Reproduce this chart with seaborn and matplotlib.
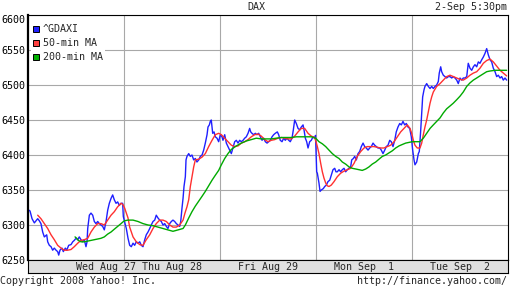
import matplotlib
matplotlib.use("Agg")
import matplotlib.pyplot as plt
from matplotlib.lines import Line2D
import seaborn as sns
import pandas as pd

# ---------------- data (time in trading days since Wed Aug 27 open) ----------------
day_labels = ["Wed Aug 27", "Thu Aug 28", "Fri Aug 29", "Mon Sep  1", "Tue Sep  2"]
y_ticks = [6250, 6300, 6350, 6400, 6450, 6500, 6550, 6600]
series_names = ["^GDAXI", "50-min MA", "200-min MA"]

gdaxi_t = [
    0.000, 0.021, 0.042, 0.066, 0.083, 0.101, 0.118, 0.135, 0.153, 0.170,
    0.195, 0.205, 0.222, 0.240, 0.257, 0.274, 0.292, 0.309, 0.320, 0.333,
    0.354, 0.368, 0.389, 0.403, 0.424, 0.448, 0.466, 0.482, 0.500, 0.518,
    0.534, 0.552, 0.570, 0.586, 0.604, 0.615, 0.622, 0.639, 0.656, 0.674,
    0.691, 0.708, 0.726, 0.743, 0.760, 0.778, 0.795, 0.813, 0.830, 0.847,
    0.865, 0.882, 0.899, 0.917, 0.934, 0.951, 0.969, 0.986, 0.993,
    1.024, 1.042, 1.059, 1.076, 1.094, 1.111, 1.128, 1.146, 1.164, 1.180,
    1.198, 1.216, 1.232, 1.250, 1.268, 1.284, 1.302, 1.320, 1.336, 1.354,
    1.372, 1.389, 1.406, 1.424, 1.441, 1.458, 1.476, 1.493, 1.510, 1.528,
    1.545, 1.563, 1.580, 1.591, 1.604, 1.615, 1.625, 1.639, 1.646, 1.656,
    1.674, 1.691, 1.708, 1.726, 1.743, 1.760, 1.778, 1.795, 1.813, 1.830,
    1.847, 1.865, 1.875, 1.889, 1.899, 1.909, 1.924, 1.938, 1.951, 1.969,
    1.986, 2.003, 2.021,
    2.031, 2.049, 2.066, 2.083, 2.101, 2.118, 2.135, 2.153, 2.170, 2.188,
    2.205, 2.222, 2.240, 2.257, 2.274, 2.292, 2.309, 2.320, 2.333, 2.351,
    2.368, 2.385, 2.403, 2.420, 2.438, 2.455, 2.472, 2.490, 2.507, 2.524,
    2.542, 2.559, 2.576, 2.597, 2.611, 2.628, 2.646, 2.664, 2.680, 2.698,
    2.716, 2.732, 2.750, 2.764, 2.778, 2.795, 2.813, 2.830, 2.847, 2.865,
    2.875, 2.889, 2.903, 2.917, 2.934, 2.951, 2.969, 2.986, 2.995,
    3.007, 3.014, 3.031, 3.042, 3.055, 3.076, 3.091, 3.107, 3.125, 3.143,
    3.159, 3.177, 3.195, 3.208, 3.222, 3.240, 3.257, 3.274, 3.292, 3.309,
    3.326, 3.344, 3.361, 3.372, 3.389, 3.403, 3.420, 3.438, 3.455, 3.472,
    3.490, 3.507, 3.524, 3.542, 3.559, 3.576, 3.594, 3.611, 3.628, 3.646,
    3.664, 3.680, 3.698, 3.716, 3.732, 3.750, 3.768, 3.784, 3.802, 3.820,
    3.836, 3.854, 3.872, 3.889, 3.906, 3.924, 3.941, 3.958, 3.976, 3.993,
    4.007,
    4.021, 4.031, 4.049, 4.066, 4.076, 4.091, 4.101, 4.111, 4.125, 4.135,
    4.153, 4.170, 4.188, 4.205, 4.222, 4.240, 4.257, 4.274, 4.284, 4.299,
    4.309, 4.326, 4.344, 4.361, 4.378, 4.396, 4.414, 4.430, 4.448, 4.466,
    4.482, 4.500, 4.518, 4.534, 4.552, 4.570, 4.586, 4.604, 4.622, 4.639,
    4.656, 4.674, 4.691, 4.708, 4.726, 4.743, 4.760, 4.778, 4.795, 4.813,
    4.830, 4.847, 4.865, 4.882, 4.899, 4.917, 4.934, 4.951, 4.969, 4.986,
]
gdaxi_v = [
    6322, 6320, 6309, 6303, 6306, 6309, 6306, 6302, 6290, 6283,
    6286, 6276, 6271, 6269, 6264, 6267, 6264, 6262, 6257, 6264,
    6267, 6262, 6267, 6264, 6271, 6272, 6276, 6278, 6281, 6279,
    6283, 6279, 6276, 6279, 6269, 6276, 6295, 6314, 6317, 6314,
    6305, 6302, 6305, 6302, 6300, 6298, 6293, 6305, 6321, 6331,
    6338, 6343, 6336, 6331, 6333, 6328, 6331, 6331, 6312,
    6295, 6281, 6271, 6269, 6274, 6271, 6276, 6274, 6276, 6271,
    6269, 6279, 6286, 6290, 6295, 6300, 6305, 6307, 6314, 6310,
    6307, 6305, 6300, 6302, 6298, 6295, 6302, 6305, 6307, 6305,
    6302, 6300, 6298, 6305, 6324, 6338, 6355, 6369, 6393, 6398,
    6402, 6398, 6400, 6393, 6395, 6390, 6393, 6398, 6400, 6407,
    6417, 6429, 6440, 6443, 6448, 6450, 6431, 6433, 6426, 6424,
    6419, 6429, 6426,
    6421, 6429, 6417, 6412, 6407, 6402, 6410, 6419, 6421, 6417,
    6421, 6419, 6421, 6424, 6426, 6431, 6438, 6433, 6431, 6429,
    6431, 6429, 6431, 6426, 6421, 6424, 6419, 6417, 6419, 6421,
    6426, 6429, 6431, 6433, 6429, 6421, 6419, 6424, 6421, 6424,
    6421, 6419, 6424, 6436, 6450, 6445, 6438, 6436, 6440, 6443,
    6436, 6424, 6419, 6410, 6419, 6421, 6426, 6424, 6428,
    6376, 6374, 6360, 6348, 6350, 6352, 6355, 6357, 6362, 6364,
    6371, 6379, 6381, 6376, 6376, 6379, 6376, 6379, 6381, 6376,
    6379, 6381, 6383, 6393, 6395, 6398, 6393, 6402, 6405, 6412,
    6417, 6412, 6410, 6407, 6410, 6412, 6417, 6414, 6412, 6410,
    6410, 6407, 6402, 6407, 6412, 6414, 6421, 6419, 6412, 6421,
    6433, 6440, 6445, 6443, 6448, 6443, 6445, 6440, 6438, 6426,
    6407,
    6393, 6386, 6390, 6402, 6405, 6436, 6460, 6483, 6493, 6498,
    6502, 6498, 6495, 6498, 6495, 6498, 6500, 6505, 6517, 6526,
    6519, 6514, 6512, 6510, 6512, 6512, 6510, 6512, 6510, 6507,
    6502, 6510, 6507, 6510, 6510, 6512, 6531, 6524, 6521, 6526,
    6529, 6526, 6533, 6531, 6536, 6540, 6545, 6552, 6543, 6536,
    6533, 6524, 6519, 6512, 6514, 6510, 6512, 6507, 6510, 6507,
]

ma50_t = [
    0.101, 0.135, 0.170, 0.205, 0.240, 0.274, 0.309, 0.344, 0.378, 0.414,
    0.448, 0.482, 0.518, 0.552, 0.586, 0.622, 0.656, 0.691, 0.726, 0.760,
    0.795, 0.830, 0.865, 0.899, 0.934, 0.969, 0.990, 1.007, 1.042, 1.059,
    1.076, 1.094, 1.128, 1.164, 1.198, 1.232, 1.268, 1.302, 1.336, 1.372,
    1.406, 1.441, 1.476, 1.510, 1.545, 1.580, 1.615, 1.635, 1.656, 1.674,
    1.691, 1.708, 1.726, 1.743, 1.778, 1.813, 1.847, 1.882, 1.917, 1.951,
    1.986, 2.014, 2.049, 2.083, 2.118, 2.153, 2.188, 2.222, 2.257, 2.292,
    2.326, 2.361, 2.396, 2.430, 2.466, 2.500, 2.534, 2.570, 2.604, 2.639,
    2.674, 2.708, 2.743, 2.778, 2.813, 2.847, 2.882, 2.917, 2.951, 2.986,
    3.000, 3.014, 3.031, 3.049, 3.066, 3.083, 3.101, 3.118, 3.135, 3.159,
    3.188, 3.222, 3.257, 3.292, 3.326, 3.361, 3.396, 3.430, 3.466, 3.500,
    3.534, 3.570, 3.604, 3.639, 3.674, 3.708, 3.743, 3.778, 3.813, 3.847,
    3.882, 3.917, 3.951, 3.979, 3.997, 4.014, 4.031, 4.055, 4.083, 4.101,
    4.118, 4.135, 4.153, 4.170, 4.188, 4.205, 4.222, 4.257, 4.292, 4.326,
    4.361, 4.396, 4.430, 4.466, 4.500, 4.534, 4.570, 4.604, 4.639, 4.674,
    4.708, 4.743, 4.778, 4.813, 4.847, 4.882, 4.917, 4.951, 4.986,
]
ma50_v = [
    6314, 6309, 6302, 6295, 6286, 6279, 6271, 6267, 6264, 6264,
    6265, 6269, 6274, 6278, 6279, 6281, 6290, 6297, 6302, 6302,
    6300, 6307, 6314, 6319, 6326, 6331, 6329, 6324, 6310, 6297,
    6290, 6283, 6276, 6272, 6271, 6279, 6286, 6295, 6302, 6307,
    6307, 6305, 6300, 6297, 6297, 6300, 6307, 6317, 6326, 6336,
    6355, 6369, 6383, 6393, 6394, 6397, 6402, 6412, 6421, 6429,
    6431, 6429, 6424, 6419, 6414, 6412, 6413, 6417, 6419, 6422,
    6426, 6429, 6430, 6427, 6422, 6419, 6421, 6422, 6424, 6425,
    6424, 6423, 6423, 6427, 6433, 6438, 6438, 6431, 6427, 6425,
    6419, 6412, 6402, 6388, 6376, 6367, 6360, 6356, 6355, 6357,
    6362, 6369, 6374, 6377, 6379, 6381, 6388, 6398, 6405, 6410,
    6412, 6412, 6412, 6411, 6410, 6410, 6412, 6414, 6419, 6426,
    6433, 6438, 6443, 6438, 6431, 6421, 6414, 6410, 6410, 6417,
    6429, 6440, 6450, 6462, 6474, 6483, 6490, 6498, 6502, 6507,
    6512, 6514, 6512, 6510, 6508, 6507, 6510, 6514, 6517, 6519,
    6524, 6531, 6535, 6537, 6533, 6527, 6521, 6517, 6513,
]

ma200_t = [
    0.490, 0.507, 0.524, 0.552, 0.586, 0.622, 0.656, 0.691, 0.726, 0.760,
    0.795, 0.830, 0.865, 0.899, 0.934, 0.969, 1.003, 1.042, 1.094, 1.146,
    1.198, 1.250, 1.302, 1.354, 1.406, 1.458, 1.510, 1.563, 1.615, 1.639,
    1.674, 1.708, 1.743, 1.778, 1.813, 1.847, 1.882, 1.917, 1.951, 1.986,
    2.014, 2.049, 2.083, 2.118, 2.170, 2.222, 2.274, 2.326, 2.378, 2.430,
    2.482, 2.534, 2.586, 2.639, 2.691, 2.743, 2.795, 2.847, 2.899, 2.951,
    2.997, 3.031, 3.066, 3.101, 3.135, 3.170, 3.205, 3.240, 3.274, 3.309,
    3.344, 3.378, 3.414, 3.448, 3.482, 3.518, 3.552, 3.586, 3.622, 3.656,
    3.691, 3.726, 3.760, 3.795, 3.830, 3.865, 3.899, 3.934, 3.969, 4.003,
    4.042, 4.083, 4.118, 4.153, 4.188, 4.222, 4.257, 4.292, 4.326, 4.361,
    4.396, 4.430, 4.466, 4.500, 4.534, 4.570, 4.604, 4.639, 4.674, 4.708,
    4.743, 4.778, 4.813, 4.865, 4.917, 4.986,
]
ma200_v = [
    6283, 6281, 6278, 6276, 6276, 6277, 6278, 6279, 6280, 6281,
    6283, 6287, 6290, 6294, 6298, 6302, 6306, 6307, 6307, 6305,
    6302, 6300, 6299, 6297, 6295, 6293, 6291, 6293, 6295, 6300,
    6310, 6319, 6327, 6334, 6341, 6348, 6356, 6364, 6371, 6378,
    6386, 6395, 6402, 6408, 6413, 6417, 6420, 6422, 6424, 6423,
    6423, 6423, 6424, 6425, 6425, 6425, 6426, 6426, 6426, 6426,
    6424, 6419, 6416, 6412, 6407, 6402, 6398, 6395, 6390, 6387,
    6383, 6381, 6380, 6379, 6378, 6380, 6383, 6387, 6390, 6394,
    6398, 6400, 6403, 6406, 6410, 6413, 6415, 6417, 6418, 6419,
    6419, 6419, 6424, 6431, 6438, 6443, 6448, 6453, 6460, 6466,
    6470, 6474, 6479, 6484, 6490, 6498, 6503, 6507, 6510, 6513,
    6516, 6519, 6520, 6521, 6521, 6521,
]

colors = {"^GDAXI": "#1f1fff", "50-min MA": "#ff3030", "200-min MA": "#00aa00"}
legend_colors = {"^GDAXI": "#2020ff", "50-min MA": "#ff4040", "200-min MA": "#00b000"}

# ---------------- build table ----------------
frames = []
for name, t, v in [("200-min MA", ma200_t, ma200_v),
                   ("50-min MA", ma50_t, ma50_v),
                   ("^GDAXI", gdaxi_t, gdaxi_v)]:
    n = min(len(t), len(v))
    frames.append(pd.DataFrame({"t": t[:n], "v": v[:n], "series": name}))
df = pd.concat(frames, ignore_index=True)

# ---------------- style ----------------
sns.set_style("white")
plt.rcParams["font.family"] = ["DejaVu Sans Mono"]
FS = 7.2

W, H = 512, 288
fig = plt.figure(figsize=(W / 100, H / 100), dpi=100)


def rect(x0, y0, x1, y1):
    return [x0 / W, 1 - y1 / H, (x1 - x0) / W, (y1 - y0) / H]


ax = fig.add_axes(rect(28, 15, 508, 260))
band = fig.add_axes(rect(28, 260, 508, 273))

plot_order = ["^GDAXI", "50-min MA", "200-min MA"]
for name in plot_order:
    sub = df[df["series"] == name]
    sns.lineplot(data=sub, x="t", y="v", color=colors[name], estimator=None,
                 sort=False, lw=1.0, ax=ax, legend=False)

ax.set_xlim(0, 5)
ax.set_ylim(y_ticks[0], y_ticks[-1])
ax.set_yticks(y_ticks)
ax.set_yticklabels([str(v) for v in y_ticks])
ax.set_xticks([1, 2, 3, 4])
ax.set_xticklabels([])
ax.set_xlabel("")
ax.set_ylabel("")
ax.set_axisbelow(True)
ax.grid(True, color="#a8a8a8", lw=0.8)
ax.tick_params(axis="y", length=0, pad=2, labelsize=FS, labelcolor="black")
ax.tick_params(axis="x", length=0)
for side in ["top", "right", "bottom"]:
    ax.spines[side].set_color("black")
    ax.spines[side].set_linewidth(0.8)
ax.spines["left"].set_color("black")
ax.spines["left"].set_linewidth(1.6)
ylabels = ax.get_yticklabels()
ylabels[-1].set_va("top")

# legend
handles = [Line2D([], [], marker="s", linestyle="none", markersize=4.4,
                  markerfacecolor=legend_colors[n], markeredgecolor="black",
                  markeredgewidth=0.7) for n in series_names]
leg = ax.legend(handles, series_names, loc="upper left",
                bbox_to_anchor=(3 / 480, 1 - 8 / 245), frameon=True,
                fancybox=False, framealpha=1, edgecolor="none",
                facecolor="white", prop={"size": FS, "family": "DejaVu Sans Mono"},
                handlelength=0.7, handletextpad=0.35, labelspacing=0.38,
                borderpad=0.15, borderaxespad=0)
leg.get_frame().set_linewidth(0)

# date band
band.set_xlim(0, 5)
band.set_ylim(0, 1)
band.set_facecolor("#e0e0e0")
band.set_xticks([])
band.set_yticks([])
for s in band.spines.values():
    s.set_color("black")
    s.set_linewidth(0.8)
for i, lab in enumerate(day_labels):
    if i == 0:
        band.text(i + 0.5, 0.45, lab, ha="left", va="center", fontsize=FS)
    else:
        band.text(i + 0.5, 0.45, lab, ha="center", va="center", fontsize=FS)

# header / footer
fig.text(256 / W, 1 - 7 / H, "DAX", ha="center", va="center", fontsize=FS)
fig.text(507 / W, 1 - 7 / H, "2-Sep 5:30pm", ha="right", va="center", fontsize=FS)
fig.text(0 / W, 1 - 281 / H, "Copyright 2008 Yahoo! Inc.", ha="left", va="center", fontsize=FS)
fig.text(507 / W, 1 - 281 / H, "http://finance.yahoo.com/", ha="right", va="center", fontsize=FS)

fig.savefig("out.png", dpi=100, facecolor="white")
